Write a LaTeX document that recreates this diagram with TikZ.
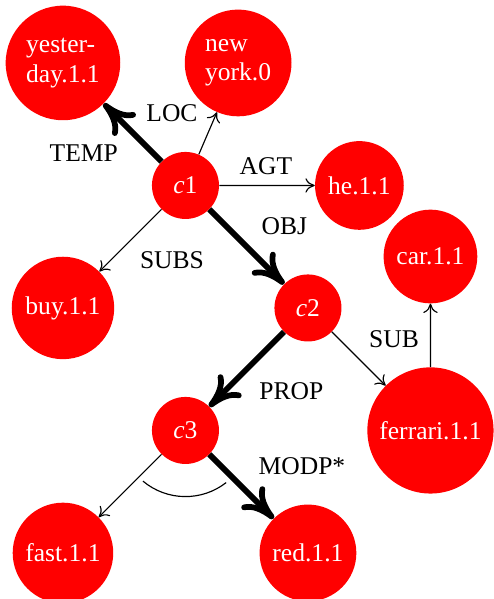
\documentclass[tikz,border=0pt]{standalone}
\usepackage{fontspec}
\setmainfont{Liberation Serif}
\usepackage{tikz}
\usetikzlibrary{arrows.meta}

\begin{document}
\begin{tikzpicture}[scale=3,
  concept/.style={circle, fill=red, text=white, inner sep=6.5pt, align=left, font=\fontsize{17.8}{20.5}\selectfont},
  cvar/.style={concept, minimum size=46.7pt},
  rel/.style={font=\fontsize{17.8}{20.5}\selectfont},
  thinarc/.style={-{To[length=6.5pt,width=10pt]}, line width=0.8pt},
  thickarc/.style={-{To[length=22pt,width=22pt,round]}, line width=4pt}]
\useasboundingbox (-0.514,0.514) rectangle (3.518,-4.376);

\node[concept] (yesterday) at (0,0) {yester-\\day.1.1};
\node[concept] (newyork) at (1.43,0) {new\\york.0};
\node[cvar] (c1) at (1,-1) {\textit{c}1};
\node[concept] (he) at (2.42,-1) {he.1.1};
\node[concept] (buy) at (0,-2) {buy.1.1};
\node[concept] (car) at (3,-1.58) {car.1.1};
\node[cvar] (c2) at (2,-2) {\textit{c}2};
\node[concept] (ferrari) at (3,-3) {ferrari.1.1};
\node[cvar] (c3) at (1,-3) {\textit{c}3};
\node[concept] (fast) at (0,-4) {fast.1.1};
\node[concept] (red) at (2,-4) {red.1.1};

\draw[thickarc] (c1) -- (yesterday);
\draw[thinarc] (c1) -- (newyork);
\draw[thinarc] (c1) -- (he);
\draw[thinarc] (c1) -- (buy);
\draw[thickarc] (c1) -- (c2);
\draw[thinarc] (c2) -- (ferrari);
\draw[thinarc] (ferrari) -- (car);
\draw[thickarc] (c2) -- (c3);
\draw[thinarc] (c3) -- (fast);
\draw[thickarc] (c3) -- (red);

\draw[line width=0.8pt] (c3.center) ++(230:0.54) arc[start angle=230, end angle=308, radius=0.54];

\node[rel] (temp) at (0.17,-0.735) {TEMP};
\node[rel] (loc) at (0.89,-0.408) {LOC};
\node[rel] (agt) at (1.657,-0.845) {AGT};
\node[rel] (obj) at (1.808,-1.33) {OBJ};
\node[rel] (subs) at (0.89,-1.612) {SUBS};
\node[rel] (sub) at (2.702,-2.253) {SUB};
\node[rel] (prop) at (1.865,-2.678) {PROP};
\node[rel] (modp) at (1.951,-3.29) {MODP*};

\end{tikzpicture}
\end{document}
